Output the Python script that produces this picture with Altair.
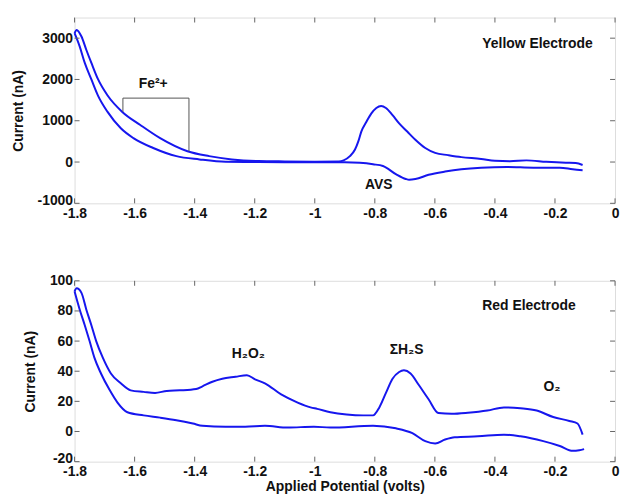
import altair as alt
import pandas as pd

# ---------------- data ----------------
XTICKS = [-1.8, -1.6, -1.4, -1.2, -1.0, -0.8, -0.6, -0.4, -0.2, 0.0]
TOP_YTICKS = [-1000, 0, 1000, 2000, 3000]
BOT_YTICKS = [-20, 0, 20, 40, 60, 80, 100]

top_upper_x = [-1.800, -1.793, -1.777, -1.761, -1.744, -1.722, -1.690, -1.641, -1.581, -1.515, -1.424,
               -1.352, -1.276, -1.188, -1.10, -1.00, -0.92, -0.904, -0.883, -0.866, -0.855, -0.845,
               -0.828, -0.812, -0.795, -0.779, -0.763, -0.741, -0.719, -0.692, -0.665, -0.632, -0.599,
               -0.556, -0.512, -0.446, -0.40, -0.35, -0.295, -0.229, -0.164, -0.131, -0.108]
top_upper_y = [3120, 3200, 3040, 2720, 2400, 2007, 1612, 1214, 898, 579, 262,
               143, 64, 24, 15, 10, 15, 40, 143, 302, 500, 738,
               976, 1174, 1310, 1357, 1310, 1136, 936, 738, 540, 340, 221,
               167, 119, 76, 30, 20, 40, 7, -17, -25, -71]

top_lower_x = [-1.800, -1.783, -1.766, -1.744, -1.722, -1.690, -1.646, -1.604, -1.538, -1.461, -1.384,
               -1.297, -1.188, -1.10, -1.00, -0.90, -0.85, -0.806, -0.773, -0.730, -0.697, -0.686,
               -0.665, -0.621, -0.566, -0.512, -0.446, -0.359, -0.272, -0.184, -0.141, -0.108]
top_lower_y = [3120, 2800, 2400, 2000, 1610, 1214, 817, 579, 340, 143, 64,
               7, 0, -5, -5, -5, -20, -55, -95, -293, -410, -428,
               -412, -310, -231, -174, -136, -119, -136, -136, -174, -198]

bot_upper_x = [-1.800, -1.793, -1.777, -1.761, -1.744, -1.728, -1.706, -1.679, -1.646, -1.613, -1.570,
               -1.532, -1.493, -1.450, -1.395, -1.374, -1.341, -1.308, -1.264, -1.226, -1.199, -1.166,
               -1.112, -1.057, -1.014, -0.992, -0.948, -0.894, -0.839, -0.806, -0.785, -0.763, -0.741,
               -0.719, -0.703, -0.681, -0.654, -0.621, -0.588, -0.544, -0.490, -0.425, -0.370, -0.315,
               -0.261, -0.206, -0.152, -0.125, -0.108]
bot_upper_y = [93, 95, 92, 81, 70.5, 60, 49, 38.5, 32, 27.3, 26.3,
               25.6, 26.9, 27.3, 28.2, 30, 33, 35, 36.3, 37.4, 34.6, 32,
               24.6, 19.2, 16, 15, 12.8, 11.3, 10.7, 10.7, 16, 25.6, 35,
               39.5, 40.6, 38.5, 31, 21.4, 12.2, 11.7, 12.4, 13.9, 16, 15.4,
               13.9, 9.6, 7, 5.3, -2.1]

bot_lower_x = [-1.800, -1.783, -1.766, -1.750, -1.734, -1.712, -1.684, -1.657, -1.624, -1.570, -1.515,
               -1.461, -1.406, -1.374, -1.297, -1.232, -1.166, -1.090, -1.003, -0.948, -0.806, -0.730,
               -0.675, -0.632, -0.599, -0.566, -0.534, -0.457, -0.370, -0.315, -0.239, -0.184, -0.141,
               -0.119, -0.103]
bot_lower_y = [93, 81, 70.5, 60, 49, 38.5, 27.8, 19.2, 12.8, 10.7, 9.2,
               7.5, 5.3, 3.8, 3.2, 3.2, 3.8, 2.6, 3.2, 2.6, 3.8, 2.1,
               -1.1, -6.4, -7.9, -5.3, -3.8, -3.2, -2.1, -3.2, -6.4, -9.6, -12.8,
               -12.4, -11.7]

# Fe2+ bracket (data coords)
bracket_x = [-1.639, -1.639, -1.419, -1.419]
bracket_y = [1214, 1548, 1548, 262]

top_labels = ["Yellow Electrode", "Fe\u00b2+", "AVS"]
top_label_x = [-0.442, -1.538, -0.787]
top_label_y = [2762, 1786, -643]
top_label_align = ["left", "center", "center"]

bot_labels = ["Red Electrode", "H\u2082O\u2082", "\u03a3H\u2082S", "O\u2082"]
bot_label_x = [-0.442, -1.221, -0.694, -0.210]
bot_label_y = [80.8, 48.7, 51.3, 26.9]
bot_label_align = ["left", "center", "center", "center"]

# ---------------- styling ----------------
BLUE = "#1616ee"
FRAME = "#666666"
FONT = "Liberation Sans"
W = 544
H_TOP = 187
H_BOT = 182
TICK = 5
LABEL_EXPR = "'' + datum.value"


def curves_df(ux, uy, lx, ly):
    rows = []
    for i, (x, y) in enumerate(zip(ux, uy)):
        rows.append({"x": x, "y": y, "branch": "upper", "i": i})
    for i, (x, y) in enumerate(zip(lx, ly)):
        rows.append({"x": x, "y": y, "branch": "lower", "i": i})
    return pd.DataFrame(rows)


def panel(df, ydomain, yticks, labels, lx, ly, lalign, height, xtitle, ytitle_pad, extra=None):
    xscale = alt.Scale(domain=[-1.8, 0], nice=False, zero=False)
    yscale = alt.Scale(domain=ydomain, nice=False, zero=False)
    xaxis_kw = dict(values=XTICKS, ticks=False, domain=False, grid=False, labelPadding=3,
                    labelFontSize=14, labelFontWeight="bold", labelFont=FONT,
                    labelColor="#111111", labelFlush=False, labelOverlap=False,
                    labelExpr=LABEL_EXPR)
    if xtitle:
        xaxis = alt.Axis(title=xtitle, titleFontSize=14, titleFontWeight="bold",
                         titleFont=FONT, titleColor="#111111", titlePadding=1, **xaxis_kw)
    else:
        xaxis = alt.Axis(title=None, **xaxis_kw)
    yaxis = alt.Axis(values=yticks, ticks=False, domain=False, grid=False, labelPadding=2,
                     labelFontSize=14, labelFontWeight="bold", labelFont=FONT,
                     labelColor="#111111", labelFlush=False, labelOverlap=False,
                     labelExpr=LABEL_EXPR,
                     labelOffset={"condition": {"test": "datum.value == %d" % ydomain[0], "value": -3},
                                  "value": 0},
                     title="Current (nA)", titleFontSize=14, titleFontWeight="bold",
                     titleFont=FONT, titleColor="#111111", titlePadding=ytitle_pad)

    def X(field):
        return alt.X(field, scale=xscale, axis=xaxis)

    def Y(field):
        return alt.Y(field, scale=yscale, axis=yaxis)

    lines = alt.Chart(df).mark_line(color=BLUE, strokeWidth=2, interpolate="monotone").encode(
        x=X("x:Q"), y=Y("y:Q"), detail="branch:N", order="i:Q")

    xt = pd.DataFrame({"v": XTICKS})
    yt = pd.DataFrame({"v": yticks})
    tick_top = alt.Chart(xt).mark_rule(color=FRAME, strokeWidth=1).encode(
        x=X("v:Q"), y=alt.value(0), y2=alt.value(TICK))
    tick_bot = alt.Chart(xt).mark_rule(color=FRAME, strokeWidth=1).encode(
        x=X("v:Q"), y=alt.value(height), y2=alt.value(height - TICK))
    tick_left = alt.Chart(yt).mark_rule(color=FRAME, strokeWidth=1).encode(
        y=Y("v:Q"), x=alt.value(0), x2=alt.value(TICK))
    tick_right = alt.Chart(yt).mark_rule(color=FRAME, strokeWidth=1).encode(
        y=Y("v:Q"), x=alt.value(W), x2=alt.value(W - TICK))

    layers = [lines, tick_top, tick_bot, tick_left, tick_right]
    if extra is not None:
        layers.append(extra(X, Y))

    for t, x, y, a in zip(labels, lx, ly, lalign):
        tdf = pd.DataFrame({"x": [x], "y": [y], "t": [t]})
        layers.append(alt.Chart(tdf).mark_text(
            align=a, baseline="alphabetic", fontSize=14, fontWeight="bold",
            font=FONT + ", DejaVu Sans", color="#111111").encode(
            x=X("x:Q"), y=Y("y:Q"), text="t:N"))

    return alt.layer(*layers).properties(width=W, height=height)


def bracket(X, Y):
    bdf = pd.DataFrame({"x": bracket_x, "y": bracket_y, "i": list(range(len(bracket_x)))})
    return alt.Chart(bdf).mark_line(color="#555555", strokeWidth=1).encode(
        x=X("x:Q"), y=Y("y:Q"), order="i:Q")


top = panel(curves_df(top_upper_x, top_upper_y, top_lower_x, top_lower_y),
            [-1000, 3500], TOP_YTICKS, top_labels, top_label_x, top_label_y, top_label_align,
            H_TOP, None, 12, extra=bracket)
bot = panel(curves_df(bot_upper_x, bot_upper_y, bot_lower_x, bot_lower_y),
            [-20, 100], BOT_YTICKS, bot_labels, bot_label_x, bot_label_y, bot_label_align,
            H_BOT, "Applied Potential (volts)", 12)

chart = alt.vconcat(top, bot, spacing=52).properties(
    padding={"left": 2, "top": 7, "right": 0, "bottom": 0}
).configure_view(stroke=FRAME, strokeWidth=1).configure(background="white")

chart.save("out.html", embed_options={"renderer": "svg", "actions": False})
